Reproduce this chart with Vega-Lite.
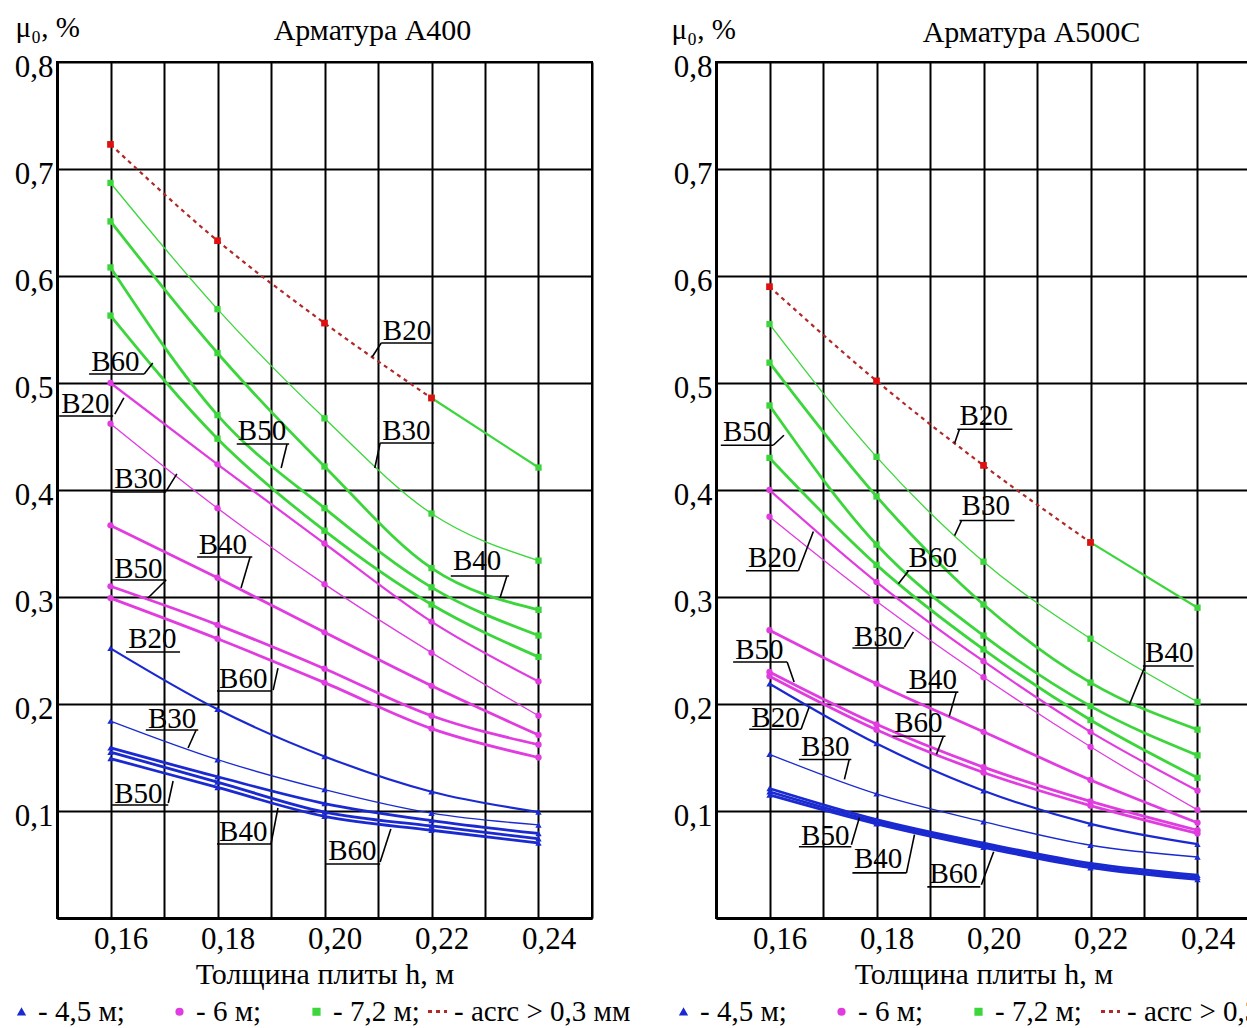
{
  "$schema": "https://vega.github.io/schema/vega-lite/v6.json",
  "background": "white",
  "padding": {"left": 6, "top": 12, "right": 5, "bottom": 5},
  "config": {
    "font": "Liberation Serif",
    "view": {"stroke": "black", "strokeWidth": 2},
    "axis": {"gridColor": "black", "gridWidth": 2, "gridOpacity": 1, "domainColor": "black", "domainWidth": 3, "ticks": false, "labelFont": "Liberation Serif", "labelFontSize": 31, "labelColor": "black", "titleFont": "Liberation Serif", "titleFontWeight": "normal", "titleColor": "black"},
    "title": {"font": "Liberation Serif", "fontSize": 30, "fontWeight": "normal", "color": "black"},
    "legend": {"labelFont": "Liberation Serif", "labelFontSize": 29, "labelColor": "black", "labelLimit": 0}
  },
  "datasets": {
    "curves": [
      {"p": "A400", "s": "4,5 м", "c": "B20", "h": [0.16, 0.18, 0.2, 0.22, 0.24], "m": [0.252, 0.195, 0.151, 0.118, 0.099]},
      {"p": "A400", "s": "4,5 м", "c": "B30", "h": [0.16, 0.18, 0.2, 0.22, 0.24], "m": [0.184, 0.148, 0.120, 0.098, 0.087]},
      {"p": "A400", "s": "4,5 м", "c": "B40", "h": [0.16, 0.18, 0.2, 0.22, 0.24], "m": [0.159, 0.132, 0.107, 0.091, 0.079]},
      {"p": "A400", "s": "4,5 м", "c": "B50", "h": [0.16, 0.18, 0.2, 0.22, 0.24], "m": [0.155, 0.127, 0.099, 0.086, 0.074]},
      {"p": "A400", "s": "4,5 м", "c": "B60", "h": [0.16, 0.18, 0.2, 0.22, 0.24], "m": [0.149, 0.122, 0.095, 0.082, 0.070]},
      {"p": "A400", "s": "6 м", "c": "B20", "h": [0.16, 0.18, 0.2, 0.22, 0.24], "m": [0.500, 0.424, 0.350, 0.277, 0.221]},
      {"p": "A400", "s": "6 м", "c": "B30", "h": [0.16, 0.18, 0.2, 0.22, 0.24], "m": [0.462, 0.383, 0.312, 0.248, 0.189]},
      {"p": "A400", "s": "6 м", "c": "B40", "h": [0.16, 0.18, 0.2, 0.22, 0.24], "m": [0.367, 0.318, 0.267, 0.217, 0.171]},
      {"p": "A400", "s": "6 м", "c": "B50", "h": [0.16, 0.18, 0.2, 0.22, 0.24], "m": [0.310, 0.274, 0.233, 0.189, 0.162]},
      {"p": "A400", "s": "6 м", "c": "B60", "h": [0.16, 0.18, 0.2, 0.22, 0.24], "m": [0.299, 0.261, 0.220, 0.177, 0.150]},
      {"p": "A400", "s": "7,2 м", "c": "B20", "h": [0.22, 0.24], "m": [0.486, 0.421]},
      {"p": "A400", "s": "7,2 м", "c": "B30", "h": [0.16, 0.18, 0.2, 0.22, 0.24], "m": [0.687, 0.569, 0.467, 0.378, 0.334]},
      {"p": "A400", "s": "7,2 м", "c": "B40", "h": [0.16, 0.18, 0.2, 0.22, 0.24], "m": [0.651, 0.528, 0.422, 0.327, 0.288]},
      {"p": "A400", "s": "7,2 м", "c": "B50", "h": [0.16, 0.18, 0.2, 0.22, 0.24], "m": [0.608, 0.470, 0.383, 0.309, 0.264]},
      {"p": "A400", "s": "7,2 м", "c": "B60", "h": [0.16, 0.18, 0.2, 0.22, 0.24], "m": [0.563, 0.448, 0.362, 0.293, 0.244]},
      {"p": "A400", "s": "acrc > 0,3 мм", "c": "B20", "h": [0.16, 0.18, 0.2, 0.22], "m": [0.723, 0.633, 0.556, 0.486]},
      {"p": "A500C", "s": "4,5 м", "c": "B20", "h": [0.16, 0.18, 0.2, 0.22, 0.24], "m": [0.219, 0.163, 0.119, 0.088, 0.069]},
      {"p": "A500C", "s": "4,5 м", "c": "B30", "h": [0.16, 0.18, 0.2, 0.22, 0.24], "m": [0.153, 0.116, 0.090, 0.068, 0.057]},
      {"p": "A500C", "s": "4,5 м", "c": "B40", "h": [0.16, 0.18, 0.2, 0.22, 0.24], "m": [0.121, 0.092, 0.070, 0.051, 0.040]},
      {"p": "A500C", "s": "4,5 м", "c": "B50", "h": [0.16, 0.18, 0.2, 0.22, 0.24], "m": [0.118, 0.090, 0.068, 0.049, 0.038]},
      {"p": "A500C", "s": "4,5 м", "c": "B60", "h": [0.16, 0.18, 0.2, 0.22, 0.24], "m": [0.115, 0.088, 0.066, 0.047, 0.036]},
      {"p": "A500C", "s": "6 м", "c": "B20", "h": [0.16, 0.18, 0.2, 0.22, 0.24], "m": [0.400, 0.314, 0.240, 0.174, 0.119]},
      {"p": "A500C", "s": "6 м", "c": "B30", "h": [0.16, 0.18, 0.2, 0.22, 0.24], "m": [0.375, 0.296, 0.225, 0.160, 0.101]},
      {"p": "A500C", "s": "6 м", "c": "B40", "h": [0.16, 0.18, 0.2, 0.22, 0.24], "m": [0.269, 0.219, 0.174, 0.129, 0.089]},
      {"p": "A500C", "s": "6 м", "c": "B50", "h": [0.16, 0.18, 0.2, 0.22, 0.24], "m": [0.230, 0.181, 0.141, 0.109, 0.082]},
      {"p": "A500C", "s": "6 м", "c": "B60", "h": [0.16, 0.18, 0.2, 0.22, 0.24], "m": [0.226, 0.176, 0.136, 0.105, 0.079]},
      {"p": "A500C", "s": "7,2 м", "c": "B20", "h": [0.22, 0.24], "m": [0.351, 0.290]},
      {"p": "A500C", "s": "7,2 м", "c": "B30", "h": [0.16, 0.18, 0.2, 0.22, 0.24], "m": [0.555, 0.431, 0.333, 0.261, 0.202]},
      {"p": "A500C", "s": "7,2 м", "c": "B40", "h": [0.16, 0.18, 0.2, 0.22, 0.24], "m": [0.519, 0.394, 0.293, 0.220, 0.176]},
      {"p": "A500C", "s": "7,2 м", "c": "B50", "h": [0.16, 0.18, 0.2, 0.22, 0.24], "m": [0.479, 0.349, 0.264, 0.198, 0.152]},
      {"p": "A500C", "s": "7,2 м", "c": "B60", "h": [0.16, 0.18, 0.2, 0.22, 0.24], "m": [0.430, 0.330, 0.251, 0.185, 0.131]},
      {"p": "A500C", "s": "acrc > 0,3 мм", "c": "B20", "h": [0.16, 0.18, 0.2, 0.22], "m": [0.590, 0.502, 0.423, 0.351]}
    ],
    "labels": [
      {"p": "A400", "t": "В20", "tx": 0.2109, "ty": 0.5402, "ux1": 0.2106, "ux2": 0.2203, "uy": 0.5374, "lx1": 0.2106, "ly1": 0.5374, "lx2": 0.2089, "ly2": 0.5243},
      {"p": "A400", "t": "В30", "tx": 0.2108, "ty": 0.4467, "ux1": 0.2104, "ux2": 0.2205, "uy": 0.4439, "lx1": 0.2104, "ly1": 0.4439, "lx2": 0.2094, "ly2": 0.4206},
      {"p": "A400", "t": "В50", "tx": 0.1838, "ty": 0.4467, "ux1": 0.1836, "ux2": 0.1934, "uy": 0.4430, "lx1": 0.1930, "ly1": 0.4430, "lx2": 0.1919, "ly2": 0.4206},
      {"p": "A400", "t": "В40", "tx": 0.2240, "ty": 0.3252, "ux1": 0.2236, "ux2": 0.2345, "uy": 0.3196, "lx1": 0.2341, "ly1": 0.3196, "lx2": 0.2328, "ly2": 0.2991},
      {"p": "A400", "t": "В60", "tx": 0.1564, "ty": 0.5112, "ux1": 0.1560, "ux2": 0.1663, "uy": 0.5084, "lx1": 0.1663, "ly1": 0.5084, "lx2": 0.1679, "ly2": 0.5187},
      {"p": "A400", "t": "В20", "tx": 0.1508, "ty": 0.4720, "ux1": 0.1504, "ux2": 0.1605, "uy": 0.4692, "lx1": 0.1608, "ly1": 0.4710, "lx2": 0.1625, "ly2": 0.4860},
      {"p": "A400", "t": "В30", "tx": 0.1607, "ty": 0.4019, "ux1": 0.1603, "ux2": 0.1704, "uy": 0.3981, "lx1": 0.1704, "ly1": 0.3990, "lx2": 0.1724, "ly2": 0.4150},
      {"p": "A400", "t": "В40", "tx": 0.1765, "ty": 0.3402, "ux1": 0.1762, "ux2": 0.1865, "uy": 0.3374, "lx1": 0.1861, "ly1": 0.3374, "lx2": 0.1844, "ly2": 0.3084},
      {"p": "A400", "t": "В50", "tx": 0.1607, "ty": 0.3178, "ux1": 0.1603, "ux2": 0.1704, "uy": 0.3159, "lx1": 0.1704, "ly1": 0.3159, "lx2": 0.1670, "ly2": 0.2991},
      {"p": "A400", "t": "В60", "tx": 0.1803, "ty": 0.2150, "ux1": 0.1799, "ux2": 0.1900, "uy": 0.2121, "lx1": 0.1904, "ly1": 0.2130, "lx2": 0.1913, "ly2": 0.2336},
      {"p": "A400", "t": "В20", "tx": 0.1633, "ty": 0.2523, "ux1": 0.1629, "ux2": 0.1730, "uy": 0.2486, "lx1": 0.1730, "ly1": 0.2486, "lx2": 0.1730, "ly2": 0.2486},
      {"p": "A400", "t": "В30", "tx": 0.1670, "ty": 0.1776, "ux1": 0.1666, "ux2": 0.1764, "uy": 0.1757, "lx1": 0.1760, "ly1": 0.1757, "lx2": 0.1745, "ly2": 0.1589},
      {"p": "A400", "t": "В50", "tx": 0.1607, "ty": 0.1075, "ux1": 0.1603, "ux2": 0.1708, "uy": 0.1056, "lx1": 0.1708, "ly1": 0.1075, "lx2": 0.1717, "ly2": 0.1280},
      {"p": "A400", "t": "В40", "tx": 0.1803, "ty": 0.0720, "ux1": 0.1799, "ux2": 0.1900, "uy": 0.0692, "lx1": 0.1900, "ly1": 0.0692, "lx2": 0.1913, "ly2": 0.1028},
      {"p": "A400", "t": "В60", "tx": 0.2007, "ty": 0.0542, "ux1": 0.2003, "ux2": 0.2104, "uy": 0.0505, "lx1": 0.2104, "ly1": 0.0523, "lx2": 0.2124, "ly2": 0.0832},
      {"p": "A500C", "t": "В20", "tx": 0.1955, "ty": 0.4606, "ux1": 0.1951, "ux2": 0.2054, "uy": 0.4568, "lx1": 0.1955, "ly1": 0.4568, "lx2": 0.1946, "ly2": 0.4437},
      {"p": "A500C", "t": "В30", "tx": 0.1959, "ty": 0.3762, "ux1": 0.1955, "ux2": 0.2058, "uy": 0.3715, "lx1": 0.1959, "ly1": 0.3715, "lx2": 0.1946, "ly2": 0.3574},
      {"p": "A500C", "t": "В50", "tx": 0.1513, "ty": 0.4456, "ux1": 0.1509, "ux2": 0.1607, "uy": 0.4418, "lx1": 0.1607, "ly1": 0.4418, "lx2": 0.1627, "ly2": 0.4512},
      {"p": "A500C", "t": "В60", "tx": 0.1860, "ty": 0.3283, "ux1": 0.1856, "ux2": 0.1953, "uy": 0.3246, "lx1": 0.1860, "ly1": 0.3246, "lx2": 0.1841, "ly2": 0.3124},
      {"p": "A500C", "t": "В20", "tx": 0.1560, "ty": 0.3283, "ux1": 0.1556, "ux2": 0.1654, "uy": 0.3246, "lx1": 0.1654, "ly1": 0.3246, "lx2": 0.1682, "ly2": 0.3612},
      {"p": "A500C", "t": "В30", "tx": 0.1758, "ty": 0.2542, "ux1": 0.1755, "ux2": 0.1852, "uy": 0.2523, "lx1": 0.1852, "ly1": 0.2533, "lx2": 0.1869, "ly2": 0.2674},
      {"p": "A500C", "t": "В50", "tx": 0.1536, "ty": 0.2420, "ux1": 0.1532, "ux2": 0.1633, "uy": 0.2392, "lx1": 0.1633, "ly1": 0.2392, "lx2": 0.1646, "ly2": 0.2205},
      {"p": "A500C", "t": "В20", "tx": 0.1566, "ty": 0.1782, "ux1": 0.1562, "ux2": 0.1659, "uy": 0.1764, "lx1": 0.1659, "ly1": 0.1764, "lx2": 0.1674, "ly2": 0.1970},
      {"p": "A500C", "t": "В30", "tx": 0.1659, "ty": 0.1510, "ux1": 0.1655, "ux2": 0.1753, "uy": 0.1482, "lx1": 0.1749, "ly1": 0.1482, "lx2": 0.1740, "ly2": 0.1295},
      {"p": "A500C", "t": "В40", "tx": 0.1860, "ty": 0.2139, "ux1": 0.1856, "ux2": 0.1953, "uy": 0.2111, "lx1": 0.1949, "ly1": 0.2111, "lx2": 0.1936, "ly2": 0.1886},
      {"p": "A500C", "t": "В60", "tx": 0.1833, "ty": 0.1735, "ux1": 0.1830, "ux2": 0.1929, "uy": 0.1698, "lx1": 0.1925, "ly1": 0.1698, "lx2": 0.1912, "ly2": 0.1529},
      {"p": "A500C", "t": "В40", "tx": 0.2302, "ty": 0.2392, "ux1": 0.2298, "ux2": 0.2393, "uy": 0.2355, "lx1": 0.2302, "ly1": 0.2355, "lx2": 0.2273, "ly2": 0.1998},
      {"p": "A500C", "t": "В50", "tx": 0.1659, "ty": 0.0685, "ux1": 0.1655, "ux2": 0.1753, "uy": 0.0666, "lx1": 0.1753, "ly1": 0.0685, "lx2": 0.1768, "ly2": 0.0938},
      {"p": "A500C", "t": "В40", "tx": 0.1758, "ty": 0.0469, "ux1": 0.1755, "ux2": 0.1856, "uy": 0.0422, "lx1": 0.1856, "ly1": 0.0422, "lx2": 0.1871, "ly2": 0.0779},
      {"p": "A500C", "t": "В60", "tx": 0.1899, "ty": 0.0328, "ux1": 0.1895, "ux2": 0.1994, "uy": 0.0291, "lx1": 0.1996, "ly1": 0.0310, "lx2": 0.2019, "ly2": 0.0619}
    ]
  },
  "bounds": "flush",
  "spacing": 124,
  "resolve": {"scale": {"color": "independent", "shape": "independent", "strokeDash": "independent"}, "legend": {"color": "independent", "shape": "independent", "strokeDash": "independent"}},
  "hconcat": [
    {
      "width": 535, "height": 856,
      "title": {"text": "Арматура А400", "dx": 48, "dy": 52, "frame": "group", "offset": 19},
      "layer": [
        {
          "data": {"name": "curves"},
          "transform": [{"flatten": ["h", "m"]}, {"filter": "datum.p === 'A400' && datum.s !== 'acrc > 0,3 мм'"}],
          "mark": {"type": "line", "interpolate": "monotone"},
          "encoding": {
            "x": {"field": "h", "type": "quantitative", "scale": {"domain": [0.15, 0.25], "nice": false, "zero": false},
              "axis": {"values": [0.15, 0.16, 0.17, 0.18, 0.19, 0.2, 0.21, 0.22, 0.23, 0.24, 0.25], "labelExpr": "(round(datum.value*100) % 2 == 0 && round(datum.value*100) >= 16 && round(datum.value*100) <= 24) ? replace(format(datum.value, '.2f'), '.', ',') : ''", "labelOffset": 10, "labelPadding": 6, "labelFlush": false, "labelOverlap": false, "title": "Толщина плиты h, м", "titleFontSize": 30, "titlePadding": 5}},
            "y": {"field": "m", "type": "quantitative", "scale": {"domain": [0, 0.8], "nice": false},
              "axis": {"values": [0, 0.1, 0.2, 0.3, 0.4, 0.5, 0.6, 0.7, 0.8], "labelExpr": "datum.value > 0.05 ? replace(format(datum.value, '.1f'), '.', ',') : ''", "labelBaseline": "middle", "labelOffset": 5, "labelPadding": 4, "labelFlush": false, "labelOverlap": false, "title": "μ₀, %", "titleAngle": 0, "titleAlign": "left", "titleBaseline": "middle", "titleX": -42, "titleY": -35, "titleFontSize": 29}},
            "color": {"field": "s", "type": "nominal", "scale": {"domain": ["4,5 м", "6 м", "7,2 м"], "range": ["#1a2ad0", "#e03ce0", "#3cd63c"]}, "legend": {"orient": "none", "legendX": -50, "legendY": 935, "direction": "horizontal", "columns": 3, "title": null, "symbolSize": 45, "columnPadding": 40, "labelOffset": 2, "labelExpr": "'- ' + datum.label + ';'"}},
            "detail": {"field": "c"},
            "strokeWidth": {"condition": [{"test": "datum.c === 'B30'", "value": 1.3}, {"test": "datum.c === 'B20'", "value": 2.2}], "value": 2.8}
          }
        },
        {
          "data": {"name": "curves"},
          "transform": [{"flatten": ["h", "m"]}, {"filter": "datum.p === 'A400' && datum.s === 'acrc > 0,3 мм'"}],
          "mark": {"type": "line", "interpolate": "monotone", "color": "#b02828", "strokeWidth": 2.2},
          "encoding": {
            "x": {"field": "h", "type": "quantitative"},
            "y": {"field": "m", "type": "quantitative"},
            "strokeDash": {"field": "s", "type": "nominal", "scale": {"domain": ["acrc > 0,3 мм"], "range": [[4, 4]]}, "legend": {"orient": "none", "legendX": 366, "legendY": 935, "title": null, "symbolType": "stroke", "symbolSize": 361, "symbolStrokeWidth": 3, "symbolStrokeColor": "#b02828", "labelOffset": 2, "labelExpr": "'- ' + datum.label"}}
          }
        },
        {
          "data": {"name": "curves"},
          "transform": [{"flatten": ["h", "m"]}, {"filter": "datum.p === 'A400' && datum.s !== 'acrc > 0,3 мм'"}],
          "mark": {"type": "point", "filled": true, "size": 40, "opacity": 1},
          "encoding": {
            "x": {"field": "h", "type": "quantitative"},
            "y": {"field": "m", "type": "quantitative"},
            "color": {"field": "s", "type": "nominal", "legend": {"orient": "none", "legendX": -50, "legendY": 935, "direction": "horizontal", "columns": 3, "title": null, "symbolSize": 45, "columnPadding": 40, "labelOffset": 2, "labelExpr": "'- ' + datum.label + ';'"}},
            "shape": {"field": "s", "type": "nominal", "scale": {"domain": ["4,5 м", "6 м", "7,2 м"], "range": ["triangle-up", "circle", "square"]}, "legend": {"orient": "none", "legendX": -50, "legendY": 935, "direction": "horizontal", "columns": 3, "title": null, "symbolSize": 45, "columnPadding": 40, "labelOffset": 2, "labelExpr": "'- ' + datum.label + ';'"}}
          }
        },
        {
          "data": {"name": "curves"},
          "transform": [{"flatten": ["h", "m"]}, {"filter": "datum.p === 'A400' && datum.s === 'acrc > 0,3 мм'"}],
          "mark": {"type": "point", "filled": true, "size": 45, "shape": "square", "color": "#e01010", "opacity": 1},
          "encoding": {
            "x": {"field": "h", "type": "quantitative"},
            "y": {"field": "m", "type": "quantitative"}
          }
        },
        {
          "data": {"name": "labels"},
          "transform": [{"filter": "datum.p === 'A400'"}],
          "mark": {"type": "rule", "color": "black", "strokeWidth": 1.6},
          "encoding": {
            "x": {"field": "ux1", "type": "quantitative"},
            "x2": {"field": "ux2"},
            "y": {"field": "uy", "type": "quantitative"}
          }
        },
        {
          "data": {"name": "labels"},
          "transform": [{"filter": "datum.p === 'A400'"}],
          "mark": {"type": "rule", "color": "black", "strokeWidth": 1.6},
          "encoding": {
            "x": {"field": "lx1", "type": "quantitative"},
            "x2": {"field": "lx2"},
            "y": {"field": "ly1", "type": "quantitative"},
            "y2": {"field": "ly2"}
          }
        },
        {
          "data": {"name": "labels"},
          "transform": [{"filter": "datum.p === 'A400'"}],
          "mark": {"type": "text", "align": "left", "baseline": "alphabetic", "font": "Liberation Serif", "fontSize": 29, "color": "black"},
          "encoding": {
            "x": {"field": "tx", "type": "quantitative"},
            "y": {"field": "ty", "type": "quantitative"},
            "text": {"field": "t"}
          }
        }
      ]
    },
    {
      "width": 535, "height": 856,
      "title": {"text": "Арматура А500С", "dx": 48, "dy": 52, "frame": "group", "offset": 19},
      "layer": [
        {
          "data": {"name": "curves"},
          "transform": [{"flatten": ["h", "m"]}, {"filter": "datum.p === 'A500C' && datum.s !== 'acrc > 0,3 мм'"}],
          "mark": {"type": "line", "interpolate": "monotone"},
          "encoding": {
            "x": {"field": "h", "type": "quantitative", "scale": {"domain": [0.15, 0.25], "nice": false, "zero": false},
              "axis": {"values": [0.15, 0.16, 0.17, 0.18, 0.19, 0.2, 0.21, 0.22, 0.23, 0.24, 0.25], "labelExpr": "(round(datum.value*100) % 2 == 0 && round(datum.value*100) >= 16 && round(datum.value*100) <= 24) ? replace(format(datum.value, '.2f'), '.', ',') : ''", "labelOffset": 10, "labelPadding": 6, "labelFlush": false, "labelOverlap": false, "title": "Толщина плиты h, м", "titleFontSize": 30, "titlePadding": 5}},
            "y": {"field": "m", "type": "quantitative", "scale": {"domain": [0, 0.8], "nice": false},
              "axis": {"values": [0, 0.1, 0.2, 0.3, 0.4, 0.5, 0.6, 0.7, 0.8], "labelExpr": "datum.value > 0.05 ? replace(format(datum.value, '.1f'), '.', ',') : ''", "labelBaseline": "middle", "labelOffset": 5, "labelPadding": 4, "labelFlush": false, "labelOverlap": false, "title": "μ₀, %", "titleAngle": 0, "titleAlign": "left", "titleBaseline": "middle", "titleX": -45, "titleY": -33, "titleFontSize": 29}},
            "color": {"field": "s", "type": "nominal", "scale": {"domain": ["4,5 м", "6 м", "7,2 м"], "range": ["#1a2ad0", "#e03ce0", "#3cd63c"]}, "legend": {"orient": "none", "legendX": -47, "legendY": 935, "direction": "horizontal", "columns": 3, "title": null, "symbolSize": 45, "columnPadding": 40, "labelOffset": 2, "labelExpr": "'- ' + datum.label + ';'"}},
            "detail": {"field": "c"},
            "strokeWidth": {"condition": [{"test": "datum.c === 'B30'", "value": 1.3}, {"test": "datum.c === 'B20'", "value": 2.2}], "value": 2.8}
          }
        },
        {
          "data": {"name": "curves"},
          "transform": [{"flatten": ["h", "m"]}, {"filter": "datum.p === 'A500C' && datum.s === 'acrc > 0,3 мм'"}],
          "mark": {"type": "line", "interpolate": "monotone", "color": "#b02828", "strokeWidth": 2.2},
          "encoding": {
            "x": {"field": "h", "type": "quantitative"},
            "y": {"field": "m", "type": "quantitative"},
            "strokeDash": {"field": "s", "type": "nominal", "scale": {"domain": ["acrc > 0,3 мм"], "range": [[4, 4]]}, "legend": {"orient": "none", "legendX": 380, "legendY": 935, "title": null, "symbolType": "stroke", "symbolSize": 361, "symbolStrokeWidth": 3, "symbolStrokeColor": "#b02828", "labelOffset": 2, "labelExpr": "'- ' + datum.label"}}
          }
        },
        {
          "data": {"name": "curves"},
          "transform": [{"flatten": ["h", "m"]}, {"filter": "datum.p === 'A500C' && datum.s !== 'acrc > 0,3 мм'"}],
          "mark": {"type": "point", "filled": true, "size": 40, "opacity": 1},
          "encoding": {
            "x": {"field": "h", "type": "quantitative"},
            "y": {"field": "m", "type": "quantitative"},
            "color": {"field": "s", "type": "nominal", "legend": {"orient": "none", "legendX": -47, "legendY": 935, "direction": "horizontal", "columns": 3, "title": null, "symbolSize": 45, "columnPadding": 40, "labelOffset": 2, "labelExpr": "'- ' + datum.label + ';'"}},
            "shape": {"field": "s", "type": "nominal", "scale": {"domain": ["4,5 м", "6 м", "7,2 м"], "range": ["triangle-up", "circle", "square"]}, "legend": {"orient": "none", "legendX": -47, "legendY": 935, "direction": "horizontal", "columns": 3, "title": null, "symbolSize": 45, "columnPadding": 40, "labelOffset": 2, "labelExpr": "'- ' + datum.label + ';'"}}
          }
        },
        {
          "data": {"name": "curves"},
          "transform": [{"flatten": ["h", "m"]}, {"filter": "datum.p === 'A500C' && datum.s === 'acrc > 0,3 мм'"}],
          "mark": {"type": "point", "filled": true, "size": 45, "shape": "square", "color": "#e01010", "opacity": 1},
          "encoding": {
            "x": {"field": "h", "type": "quantitative"},
            "y": {"field": "m", "type": "quantitative"}
          }
        },
        {
          "data": {"name": "labels"},
          "transform": [{"filter": "datum.p === 'A500C'"}],
          "mark": {"type": "rule", "color": "black", "strokeWidth": 1.6},
          "encoding": {
            "x": {"field": "ux1", "type": "quantitative"},
            "x2": {"field": "ux2"},
            "y": {"field": "uy", "type": "quantitative"}
          }
        },
        {
          "data": {"name": "labels"},
          "transform": [{"filter": "datum.p === 'A500C'"}],
          "mark": {"type": "rule", "color": "black", "strokeWidth": 1.6},
          "encoding": {
            "x": {"field": "lx1", "type": "quantitative"},
            "x2": {"field": "lx2"},
            "y": {"field": "ly1", "type": "quantitative"},
            "y2": {"field": "ly2"}
          }
        },
        {
          "data": {"name": "labels"},
          "transform": [{"filter": "datum.p === 'A500C'"}],
          "mark": {"type": "text", "align": "left", "baseline": "alphabetic", "font": "Liberation Serif", "fontSize": 29, "color": "black"},
          "encoding": {
            "x": {"field": "tx", "type": "quantitative"},
            "y": {"field": "ty", "type": "quantitative"},
            "text": {"field": "t"}
          }
        }
      ]
    }
  ]
}
